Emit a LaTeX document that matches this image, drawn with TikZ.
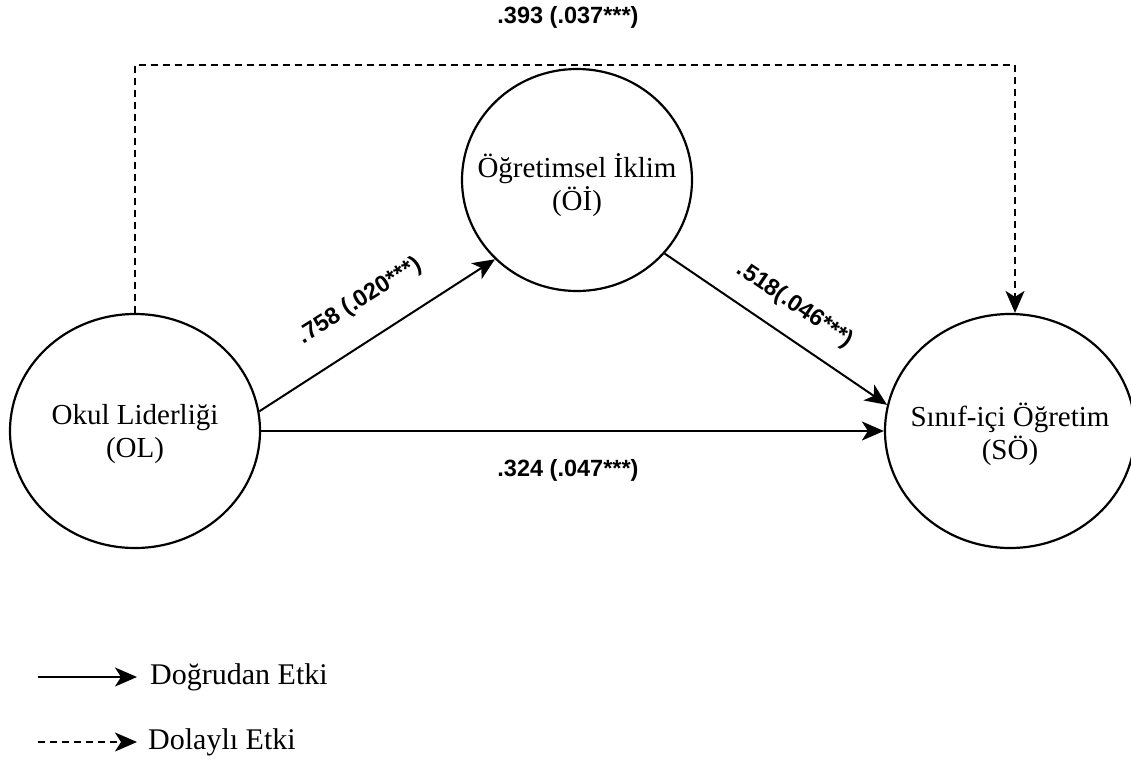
\documentclass[tikz,border=0pt]{standalone}
\usepackage{fontspec}
\setmainfont{Liberation Serif}
\newfontfamily\lblfont{Liberation Sans}
\usetikzlibrary{arrows.meta,shapes.geometric}
\begin{document}
\begin{tikzpicture}[x=1pt,y=-1pt,
  latent/.style={ellipse, draw, line width=2.2pt, minimum width=250pt, minimum height=234pt, inner sep=0pt},
  lt/.style={label={[font=\fontsize{29}{33}\selectfont, align=center, yshift=-3pt]center:#1}},
  conn/.style={line width=2pt, -{Stealth[length=22pt,width=19pt,inset=6pt]}},
  dashconn/.style={conn, dash pattern=on 7pt off 5pt},
  coef/.style={font=\lblfont\bfseries\fontsize{23.5}{26}\selectfont, inner sep=1pt},
  legtext/.style={font=\fontsize{30}{33}\selectfont, anchor=west, inner sep=0pt}]
\useasboundingbox (0,0) rectangle (1131,758);
\node[latent, lt={Okul Liderliği\\(OL)}] (OL) at (135,431) {};
\node[latent, minimum width=230pt, minimum height=222pt, lt={\vphantom{Ö}\\[-28pt]Öğretimsel İklim\\(Öİ)}] (OI) at (577,180) {};
\node[latent, lt={Sınıf-içi Öğretim\\(SÖ)}] (SO) at (1010,431) {};
\coordinate (d1) at (135,65);
\coordinate (d2) at (1015,65);
\draw[conn] (OL.east) -- (SO.west);
\draw[conn] (OL.9.5) -- (OI.224);
\draw[conn] (OI.320) -- (SO.168);
\draw[dashconn] (OL.north) -- (d1) -- (d2) -- (SO.north -| d2);
\node[coef] (c1) at (568,17) {.393 (.037***)};
\node[coef, rotate=32.5] (c2) at (360,301) {.758 (.020***)};
\node[coef, rotate=-34] (c3) at (795,305) {.518(.046***)};
\node[coef] (c4) at (568,470) {.324 (.047***)};
\coordinate (l1a) at (38,677);
\coordinate (l1b) at (137,677);
\coordinate (l2a) at (38,742);
\coordinate (l2b) at (137,742);
\draw[conn] (l1a) -- (l1b);
\draw[dashconn] (l2a) -- (l2b);
\node[legtext] (t1) at (150,677) {Doğrudan Etki};
\node[legtext] (t2) at (148,742) {Dolaylı Etki};
\end{tikzpicture}
\end{document}
